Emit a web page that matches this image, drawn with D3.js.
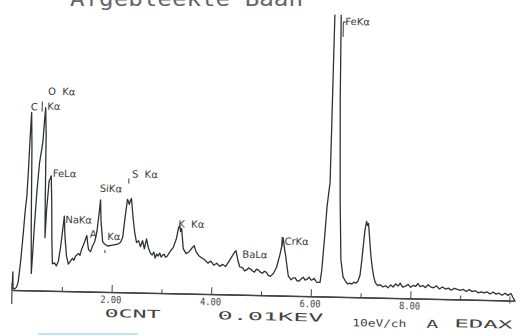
<!DOCTYPE html>
<html>
<head>
<meta charset="utf-8">
<script src="https://cdn.jsdelivr.net/npm/d3@7"></script>
<style>
  html, body { margin: 0; padding: 0; background: #fff; }
  svg { display: block; }
</style>
</head>
<body>
<figure id="spectrum" style="margin:0"></figure>
<script>
// EDAX spectrum, energy in keV, counts in plot units
const energyKeV = [
  0.00, 0.01, 0.02, 0.05, 0.09, 0.12, 0.16, 0.20, 0.23, 0.26, 0.28, 0.30, 0.32, 0.34, 0.36, 0.38,
  0.40, 0.42, 0.46, 0.50, 0.54, 0.56, 0.58, 0.60, 0.62, 0.63, 0.64, 0.66, 0.70, 0.72, 0.74, 0.76,
  0.78, 0.80, 0.84, 0.88, 0.92, 0.96, 1.00, 1.02, 1.04, 1.08, 1.12, 1.16, 1.20, 1.23, 1.26, 1.32,
  1.35, 1.38, 1.44, 1.48, 1.50, 1.52, 1.56, 1.60, 1.64, 1.68, 1.72, 1.74, 1.76, 1.80, 1.84, 1.90,
  2.00, 2.10, 2.16, 2.20, 2.24, 2.28, 2.30, 2.32, 2.34, 2.36, 2.40, 2.44, 2.48, 2.52, 2.56, 2.60,
  2.64, 2.68, 2.72, 2.76, 2.80, 2.83, 2.86, 2.89, 2.92, 2.95, 2.98, 3.01, 3.04, 3.07, 3.10, 3.16,
  3.22, 3.28, 3.32, 3.34, 3.36, 3.38, 3.42, 3.48, 3.54, 3.60, 3.64, 3.68, 3.74, 3.80, 3.86, 3.92,
  3.98, 4.04, 4.10, 4.16, 4.22, 4.28, 4.34, 4.40, 4.46, 4.48, 4.52, 4.56, 4.62, 4.66, 4.70, 4.74,
  4.78, 4.82, 4.86, 4.90, 4.94, 4.98, 5.02, 5.06, 5.10, 5.14, 5.18, 5.24, 5.30, 5.36, 5.40, 5.42,
  5.44, 5.46, 5.48, 5.50, 5.54, 5.60, 5.64, 5.68, 5.72, 5.76, 5.80, 5.84, 5.88, 5.92, 5.96, 6.00,
  6.04, 6.06, 6.10, 6.12, 6.18, 6.21, 6.26, 6.29, 6.34, 6.35, 6.36, 6.37, 6.42, 6.46, 6.49, 6.51,
  6.55, 6.59, 6.64, 6.70, 6.74, 6.78, 6.82, 6.86, 6.90, 6.94, 6.98, 7.01, 7.06, 7.09, 7.11, 7.13,
  7.16, 7.19, 7.22, 7.26, 7.29, 7.34, 7.39, 7.44, 7.50, 7.55, 7.60, 7.65, 7.70, 7.75, 7.79, 7.84,
  7.90, 7.95, 8.00, 8.05, 8.10, 8.15, 8.19, 8.25, 8.30, 8.35, 8.40, 8.46, 8.52, 8.58, 8.64, 8.70,
  8.76, 8.82, 8.88, 8.94, 9.00, 9.06, 9.12, 9.18, 9.24, 9.30, 9.36, 9.42, 9.48, 9.54, 9.60, 9.66,
  9.72, 9.78, 9.84, 9.90, 9.96, 10.02, 10.06, 10.10
];
const counts = [
  0, 18, 2, 1, 3, 8, 28, 55, 78, 95, 120, 152, 178, 145, 62, 17,
  38, 62, 100, 128, 142, 150, 168, 183, 157, 90, 53, 80, 110, 112, 115, 90,
  50, 27, 28, 25, 30, 45, 65, 75, 55, 35, 27, 30, 33, 31, 35, 38,
  36, 42, 50, 56, 48, 42, 40, 46, 50, 60, 80, 92, 70, 50, 48, 46,
  47, 48, 50, 55, 75, 93, 91, 88, 92, 94, 75, 60, 50, 52, 46, 52,
  44, 54, 45, 40, 38, 41, 35, 39, 37, 40, 36, 38, 39, 36, 37, 42,
  46, 55, 66, 68, 62, 65, 45, 40, 42, 46, 48, 42, 38, 36, 34, 31,
  33, 29, 31, 28, 30, 28, 33, 38, 43, 44, 35, 28, 27, 24, 25, 27,
  26, 24, 23, 26, 25, 23, 22, 24, 23, 20, 19, 22, 28, 40, 50, 58,
  52, 45, 40, 33, 20, 16, 18, 18, 15, 15, 17, 19, 16, 17, 19, 16,
  17, 18, 15, 14, 14, 26, 64, 90, 114, 170, 240, 300, 360, 380, 300, 196,
  97, 37, 20, 15, 13, 14, 13, 15, 14, 16, 22, 37, 67, 76, 72, 74,
  58, 42, 31, 20, 15, 12, 13, 11, 12, 10, 13, 11, 14, 12, 15, 11,
  12, 14, 11, 13, 12, 15, 12, 13, 11, 14, 12, 11, 13, 10, 12, 10,
  11, 9, 11, 10, 9, 10, 8, 10, 8, 9, 7, 8, 7, 8, 6, 8,
  6, 7, 5, 7, 5, 7, 3, 0
];

const minorTicks = [1, 3, 5, 7, 9];
const majorTicks = [2, 4, 6, 8];
const tickLabels = ["2.00", "4.00", "6.00", "8.00"];

// peak labels anchored at (keV, counts)
const peakNames = ["O  K\u03b1", "C", "K\u03b1", "FeL\u03b1", "NaK\u03b1", "A", "K\u03b1", "SiK\u03b1", "S  K\u03b1", "K  K\u03b1", "BaL\u03b1", "CrK\u03b1", "FeK\u03b1"];
const peakKeV   = [0.64, 0.30, 0.63, 0.77, 1.04, 1.54, 1.89, 1.72, 2.36, 3.31, 4.61, 5.45, 6.58];
const peakCnt   = [196, 180, 181, 114, 68, 54, 52, 100, 115, 66, 37, 51, 272];

// KLM line markers (keV, bottom cnt, top cnt)
const markerKeV = [0.53, 2.30, 1.85, 5.40, 6.54];
const markerLo  = [179, 109, 39, 49, 260];
const markerHi  = [189, 114, 42, 59, 275];

const width = 521, height = 336;
const x0 = 12, base = 290;

const svg = d3.select("figure#spectrum")
  .append("svg")
  .attr("width", width)
  .attr("height", height);

// title, cut off at the top of the scan
svg.append("text")
  .attr("x", 70)
  .attr("y", 6)
  .attr("textLength", 233)
  .attr("lengthAdjust", "spacingAndGlyphs")
  .style("font-family", "DejaVu Sans Mono")
  .style("font-size", "21px")
  .style("fill", "#666")
  .text("Afgebleekte Baan");

// the printout is slightly tilted in the scan
const g = svg.append("g")
  .attr("transform", "rotate(1.2," + x0 + "," + base + ")");

const x = d3.scaleLinear().domain([0, 10.1]).range([x0, x0 + 10.1 * 49.8]);
const y = d3.scaleLinear().domain([0, 290]).range([base, 0]);

g.append("clipPath").attr("id", "clip")
  .append("rect").attr("x", 0).attr("y", 8).attr("width", 540).attr("height", 300);

// spectrum trace
const pts = energyKeV.map((e, i) => [e, counts[i]]);
g.append("path")
  .datum(pts)
  .attr("clip-path", "url(#clip)")
  .attr("fill", "none")
  .attr("stroke", "#2e3136")
  .attr("stroke-width", 1.3)
  .attr("stroke-linejoin", "round")
  .attr("d", d3.line().x(d => x(d[0])).y(d => y(d[1])));

// axis: minor ticks
g.append("g")
  .attr("transform", "translate(0," + base + ")")
  .call(d3.axisBottom(x).tickValues(minorTicks).tickSize(-4).tickSizeOuter(0).tickFormat(""))
  .call(a => a.selectAll("line").attr("stroke", "#444").attr("stroke-width", 1));

// axis: major ticks with labels
const ax = g.append("g")
  .attr("transform", "translate(0," + base + ")")
  .call(d3.axisBottom(x).tickValues(majorTicks).tickSize(-7).tickSizeOuter(0).tickPadding(6)
    .tickFormat((d, i) => tickLabels[i]));
ax.select(".domain").attr("stroke", "#444").attr("stroke-width", 1.5);
ax.selectAll("line").attr("stroke", "#444").attr("stroke-width", 1);
ax.selectAll("text")
  .attr("dx", -1)
  .attr("dy", "0.5em")
  .attr("textLength", 21)
  .attr("lengthAdjust", "spacingAndGlyphs")
  .style("font-family", "DejaVu Sans Mono")
  .style("font-size", "10px")
  .style("fill", "#444");

// zero tick and end tick
g.append("line").attr("x1", x(0)).attr("x2", x(0)).attr("y1", base - 7).attr("y2", base + 14)
  .attr("stroke", "#444").attr("stroke-width", 1.2);
g.append("line").attr("x1", x(10)).attr("x2", x(10)).attr("y1", base - 4).attr("y2", base + 3)
  .attr("stroke", "#444").attr("stroke-width", 1);

// peak labels
g.selectAll("text.peak")
  .data(peakNames)
  .enter()
  .append("text")
  .attr("class", "peak")
  .attr("x", (d, i) => x(peakKeV[i]))
  .attr("y", (d, i) => y(peakCnt[i]))
  .attr("xml:space", "preserve")
  .style("font-family", "DejaVu Sans")
  .style("font-size", "10px")
  .style("fill", "#3a3a3a")
  .text(d => d);

// line markers
g.selectAll("line.marker")
  .data(markerKeV)
  .enter()
  .append("line")
  .attr("class", "marker")
  .attr("x1", d => x(d)).attr("x2", d => x(d))
  .attr("y1", (d, i) => y(markerLo[i]))
  .attr("y2", (d, i) => y(markerHi[i]))
  .attr("stroke", "#3a3a3a").attr("stroke-width", 1);
// bracket top for FeKa marker
g.append("line")
  .attr("x1", x(6.54)).attr("x2", x(6.54) + 3)
  .attr("y1", y(275)).attr("y2", y(275))
  .attr("stroke", "#3a3a3a").attr("stroke-width", 1);

// footer text
const footText = ["0CNT", "0.01KEV", "10eV/ch", "A", "EDAX"];
const footX    = [105, 218, 353, 427, 455];
const footY    = [315, 315, 319, 319, 318];
const footLen  = [56, 106, 54, 12, 58];
const footSize = [11, 11, 10, 11, 11];
g.selectAll("text.foot")
  .data(footText)
  .enter()
  .append("text")
  .attr("class", "foot")
  .attr("x", (d, i) => footX[i])
  .attr("y", (d, i) => footY[i])
  .attr("textLength", (d, i) => footLen[i])
  .attr("lengthAdjust", "spacingAndGlyphs")
  .style("font-family", "DejaVu Sans Mono")
  .style("font-size", (d, i) => footSize[i] + "px")
  .style("fill", "#444")
  .text(d => d);

// cyan smudge from the scan
svg.append("rect").attr("x", 38).attr("y", 333).attr("width", 100).attr("height", 2)
  .attr("fill", "#bfe6ef");
</script>
</body>
</html>
